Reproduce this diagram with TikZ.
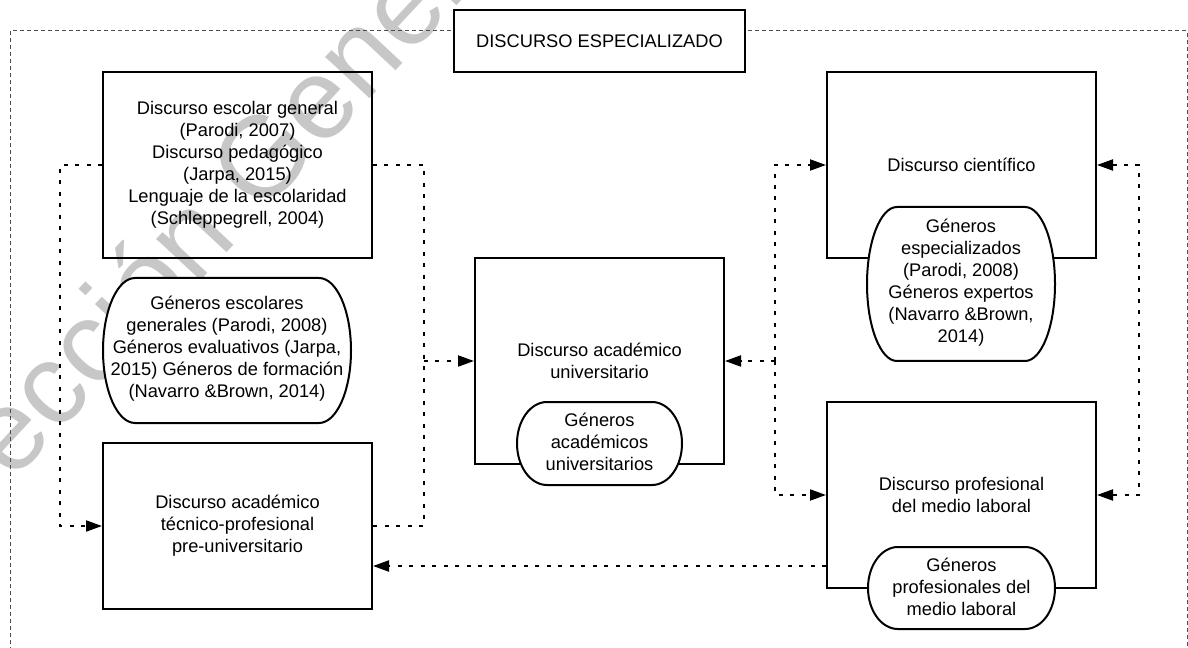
\documentclass[tikz,border=0pt]{standalone}
\usepackage{fontspec}
\setmainfont{Liberation Sans}
\usetikzlibrary{arrows.meta}
\newcommand\dfont{\fontsize{13.7}{16.5}\selectfont}
\newcommand\stadium[5]{%
  \draw[shapeline] (#1+#5,#2) -- (#3-#5,#2)
    arc[start angle=-90, end angle=90, x radius=#5, y radius={(#4-#2)/2}]
    -- (#1+#5,#4)
    arc[start angle=90, end angle=270, x radius=#5, y radius={(#4-#2)/2}]
    -- cycle;}
\begin{document}
\begin{tikzpicture}[x=0.75pt,y=-0.75pt,
  box/.style={draw, line width=1.5pt, inner sep=0pt, align=center, font=\dfont},
  txt/.style={inner sep=0pt, align=center, font=\dfont},
  shapeline/.style={draw, line width=1.5pt, fill=white},
  conn/.style={line width=1.5pt, dash pattern=on 3pt off 5.6pt},
  arr/.style={-{Triangle[length=12pt,width=8.25pt]}},
  arrs/.style={{Triangle[length=12pt,width=8.25pt]}-{Triangle[length=12pt,width=8.25pt]}},
  frame/.style={line width=0.75pt, black!70, dash pattern=on 3pt off 2.25pt},
  wm/.style={anchor=base, rotate=47, text=black!22, inner sep=0pt, font=\fontsize{86}{86}\selectfont}]
\useasboundingbox (0,0) rectangle (1188,648);
\clip (0,0) rectangle (1188,648);
\fill[white] (0,0) rectangle (1188,648);
% watermark
\node[wm] (wmark) at (276,200) {ección General};
% outer frame
\draw[frame] (10,700) -- (10,31) -- (1187,31) -- (1187,700);
% title
\node[box, fill=white, minimum width=218.25pt, minimum height=46.5pt] (T) at (599.5,41) {DISCURSO ESPECIALIZADO};
% boxes
\node[box, minimum width=201.75pt, minimum height=139.5pt] (A) at (237.5,165)
  {Discurso escolar general\\(Parodi, 2007)\\Discurso pedagógico\\(Jarpa, 2015)\\Lenguaje de la escolaridad\\(Schleppegrell, 2004)};
\node[box, minimum width=201.75pt, minimum height=124.5pt] (C) at (237.5,526)
  {Discurso académico\\técnico-profesional\\pre-universitario};
\node[box, minimum width=186.75pt, minimum height=154.5pt] (D) at (599.5,361)
  {Discurso académico\\universitario};
\node[box, minimum width=201.75pt, minimum height=139.5pt] (F) at (961.5,165)
  {Discurso científico};
\node[box, minimum width=201.75pt, minimum height=139.5pt] (H) at (961.5,495)
  {Discurso profesional\\del medio laboral};
% genre shapes
\stadium{103}{278}{351}{423}{32}
\node[txt] (B) at (227,349) {Géneros escolares\\generales (Parodi, 2008)\\Géneros evaluativos (Jarpa,\\2015) Géneros de formación\\(Navarro \&Brown, 2014)};
\stadium{517}{402}{682}{485}{30}
\node[txt] (E) at (599.5,442) {Géneros\\académicos\\universitarios};
\stadium{867}{207}{1055}{361}{30}
\node[txt] (G) at (961,283) {Géneros\\especializados\\(Parodi, 2008)\\Géneros expertos\\(Navarro \&Brown,\\2014)};
\stadium{868}{547}{1055}{629}{30}
\node[txt] (I) at (961.5,587) {Géneros\\profesionales del\\medio laboral};
% connectors
\draw[conn, arr] (A.west) -- ++(-42,0) |- (C.west);
\coordinate (jl) at (424,361);
\draw[conn] (A.east) -| (jl) |- (C.east);
\draw[conn, arr] (jl) -- (D.west);
\coordinate (jr) at (775,361);
\draw[conn, arr] (jr) |- (F.west);
\draw[conn, arr] (jr) |- (H.west);
\draw[conn, arr] (jr) -- (D.east);
\draw[conn, arrs] (F.east) -- ++(42,0) |- (H.east);
\coordinate (hs) at ([yshift=-53.25pt]H.west);
\draw[conn, arr] (hs) -- (hs -| C.east);
\end{tikzpicture}
\end{document}
